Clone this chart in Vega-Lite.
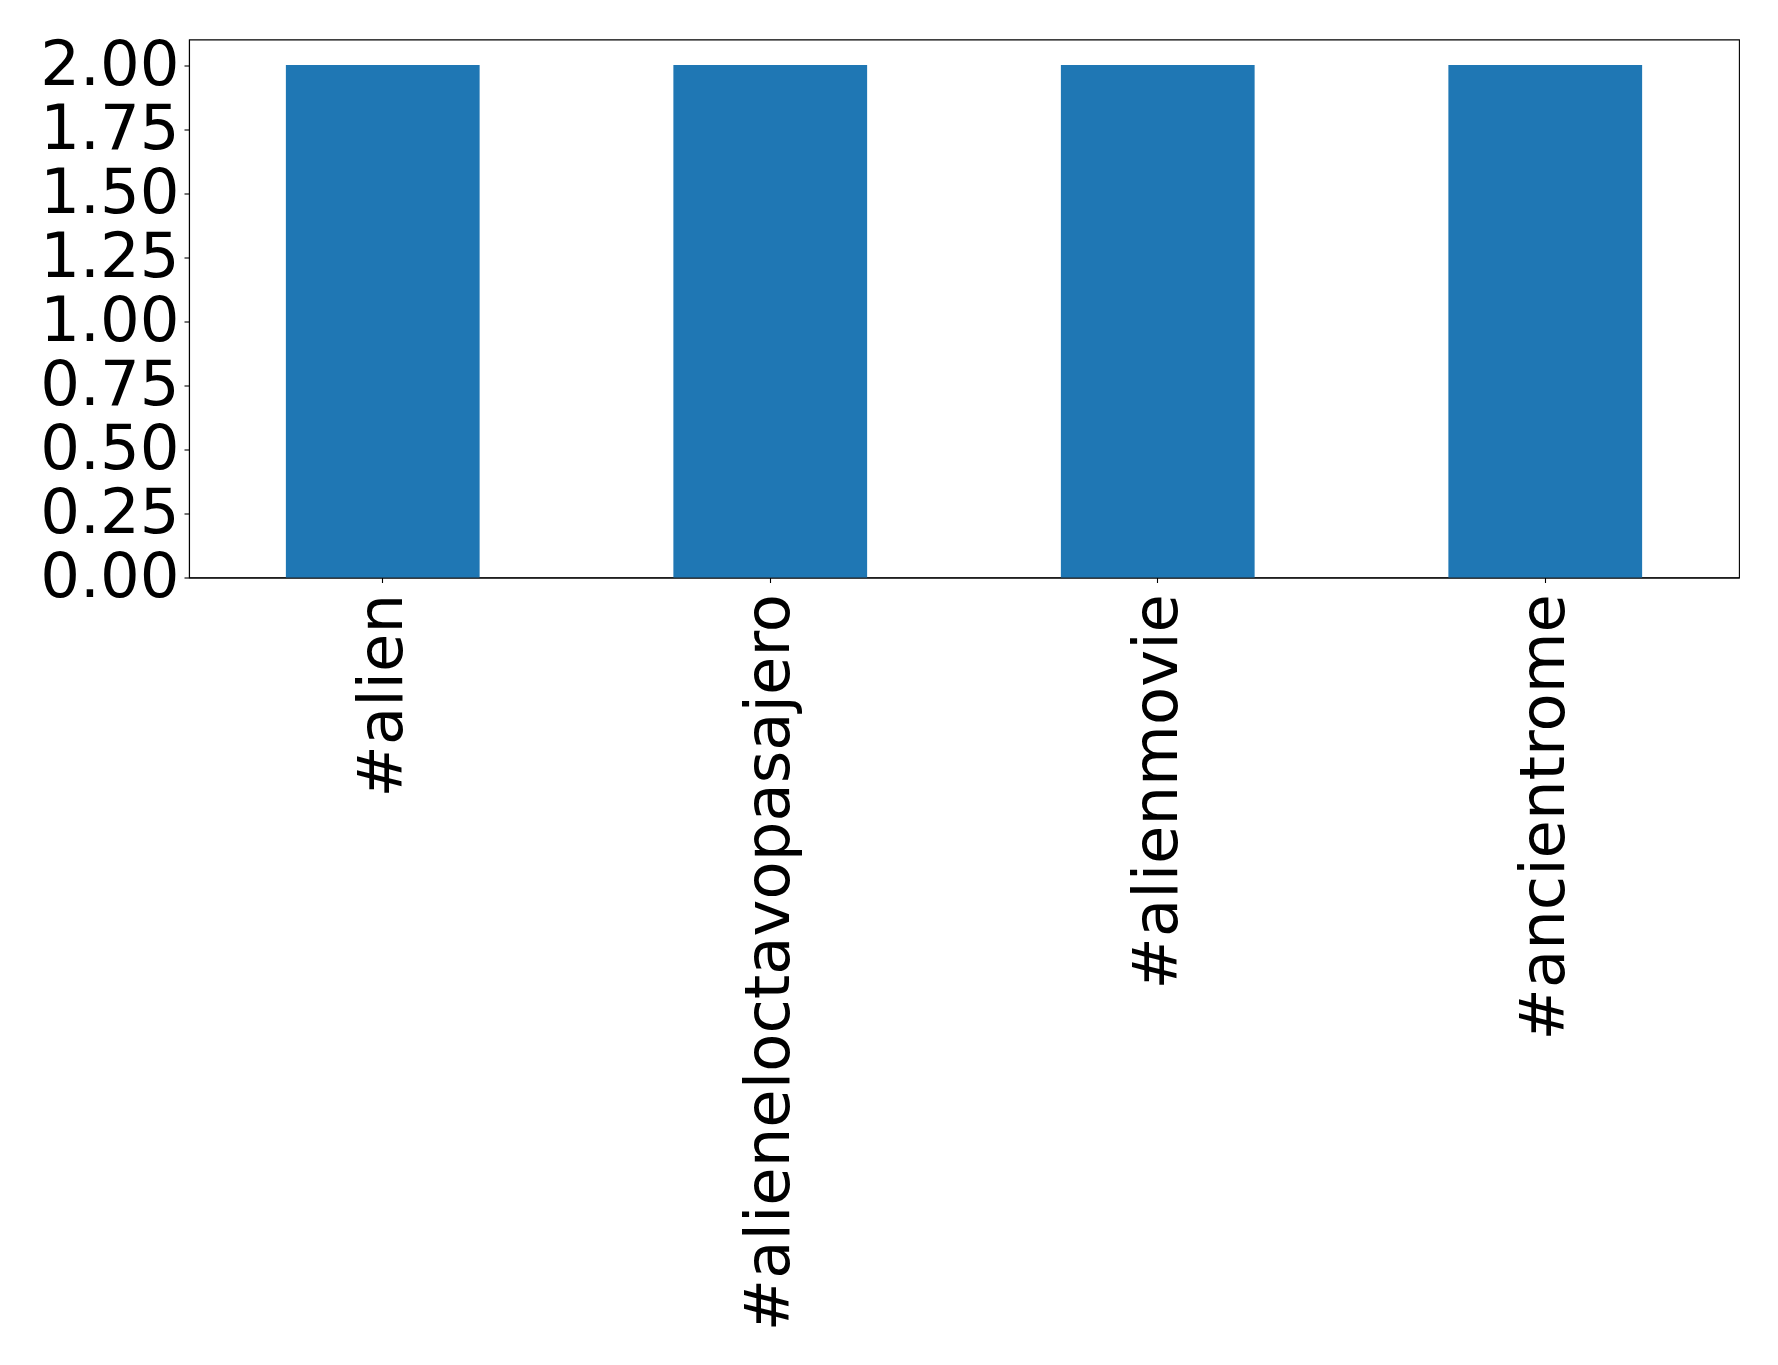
{
  "$schema": "https://vega.github.io/schema/vega-lite/v6.json",
  "autosize": {"type": "none"},
  "padding": {"left": 189, "top": 39.5, "right": 39, "bottom": 787.5},
  "width": 1550,
  "height": 538,
  "background": "white",
  "config": {
    "font": "DejaVu Sans",
    "view": {"stroke": "black", "strokeWidth": 1.1},
    "axis": {
      "domainColor": "black",
      "domainWidth": 1.1,
      "tickColor": "black",
      "tickWidth": 1.1,
      "tickSize": 5,
      "labelFont": "DejaVu Sans",
      "labelFontSize": 62.5,
      "labelColor": "black",
      "grid": false,
      "title": null
    }
  },
  "data": {
    "values": [
      {"hashtag": "#alien", "count": 2},
      {"hashtag": "#alieneloctavopasajero", "count": 2},
      {"hashtag": "#alienmovie", "count": 2},
      {"hashtag": "#ancientrome", "count": 2}
    ]
  },
  "mark": {"type": "bar", "color": "#1f77b4"},
  "encoding": {
    "x": {
      "field": "hashtag",
      "type": "nominal",
      "sort": null,
      "scale": {"paddingInner": 0.5, "paddingOuter": 0.25},
      "axis": {"labelAngle": -90, "labelPadding": 11, "labelAlign": "right", "labelBaseline": "middle", "labelLimit": 0, "labelOverlap": false}
    },
    "y": {
      "field": "count",
      "type": "quantitative",
      "scale": {"domain": [0, 2.1], "nice": false, "zero": true},
      "axis": {"values": [0, 0.25, 0.5, 0.75, 1, 1.25, 1.5, 1.75, 2], "format": ".2f", "labelPadding": 5, "labelBaseline": "middle", "labelFlush": false, "labelOverlap": false}
    }
  }
}
